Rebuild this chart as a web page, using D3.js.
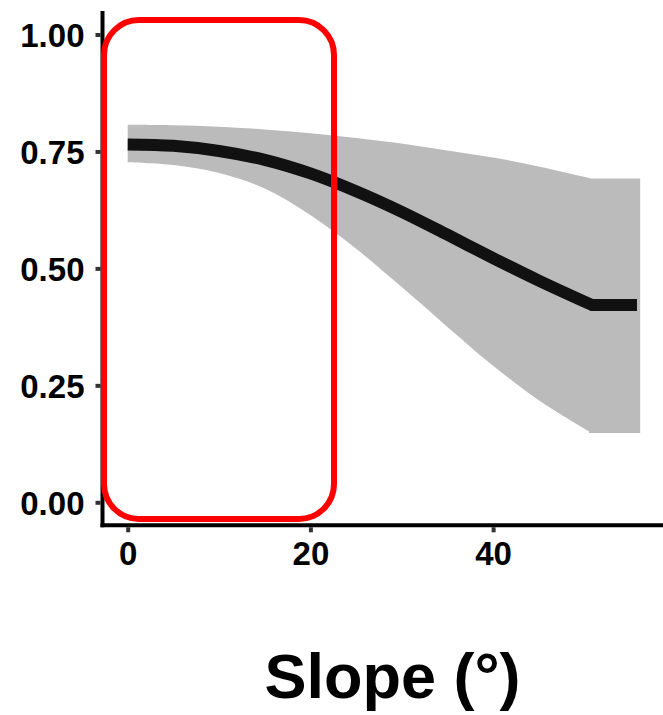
<!DOCTYPE html>
<html><head><meta charset="utf-8">
<script src="https://cdn.jsdelivr.net/npm/d3@7"></script>
<style>body{margin:0;background:#fff}svg{display:block}</style>
</head><body>
<svg id="c" width="663" height="715"></svg>
<script>
// data
const slope = [0, 5, 10, 15, 20, 25, 30, 35, 40, 45, 50.8];
const fit   = [0.765, 0.762, 0.751, 0.732, 0.703, 0.665, 0.621, 0.572, 0.522, 0.474, 0.422];
const upper = [0.807, 0.806, 0.803, 0.797, 0.789, 0.779, 0.767, 0.752, 0.737, 0.718, 0.692];
const lower = [0.727, 0.721, 0.704, 0.671, 0.614, 0.542, 0.460, 0.375, 0.292, 0.218, 0.148];
const slopeEnd = 56.1;
const xTicks = [0, 20, 40];
const yTicks = [0, 0.25, 0.5, 0.75, 1.0];
const xTitle = "Slope (°)";

const svg = d3.select("#c");
const x = d3.scaleLinear().domain([0, 20]).range([127.7, 310.4]);
const y = d3.scaleLinear().domain([0, 1]).range([502.3, 34.5]);

const panelLeft = 102.5, panelBottom = 525.3;
const font = "Liberation Sans, Arial, sans-serif";

const pts = slope.map((s, i) => ({s, f: fit[i], lo: lower[i], hi: upper[i]}));
const last = pts[pts.length - 1];
const plateau = [{s: last.s - 0.3, f: last.f, lo: last.lo, hi: last.hi}, {s: slopeEnd, f: last.f, lo: last.lo, hi: last.hi}];

const curve = d3.curveCatmullRom.alpha(0.5);
// ribbon
const area = d3.area().x(d => x(d.s)).y0(d => y(d.lo)).y1(d => y(d.hi)).curve(curve);
const areaLin = d3.area().x(d => x(d.s)).y0(d => y(d.lo)).y1(d => y(d.hi));
svg.append("path").attr("d", area(pts) + areaLin(plateau)).attr("fill", "#bbbbbb");

// fit line
const line = d3.line().x(d => x(d.s)).y(d => y(d.f)).curve(curve);
const lp = line(pts) + "L" + x(slopeEnd - 0.35) + "," + y(last.f);
svg.append("path").attr("d", lp).attr("fill", "none").attr("stroke", "#111")
  .attr("stroke-width", 12).attr("stroke-linejoin", "miter").attr("stroke-linecap", "butt");

// axes
const xAxis = d3.axisBottom(x).tickValues(xTicks).tickFormat(d3.format("d")).tickSize(7).tickSizeOuter(0);
const gx = svg.append("g").attr("transform", `translate(0,${panelBottom})`).call(xAxis);
gx.select(".domain").remove();
gx.selectAll(".tick line").attr("stroke", "#333").attr("stroke-width", 4).attr("y1", 2);
gx.selectAll(".tick text").attr("y", 16).attr("dy", "0.71em")
  .attr("font-family", font).attr("font-weight", "bold")
  .attr("font-size", 33).attr("fill", "#000");

const yAxis = d3.axisLeft(y).tickValues(yTicks).tickFormat(d3.format(".2f")).tickSize(7).tickSizeOuter(0);
const gy = svg.append("g").attr("transform", `translate(${panelLeft},0)`).call(yAxis);
gy.select(".domain").remove();
gy.selectAll(".tick line").attr("stroke", "#333").attr("stroke-width", 4).attr("x2", -7).attr("x1", -2);
gy.selectAll(".tick text").attr("x", -18).attr("dy", "0.36em")
  .attr("font-family", font).attr("font-weight", "bold")
  .attr("font-size", 33).attr("fill", "#000");

// axis lines
svg.append("line").attr("x1", panelLeft).attr("x2", panelLeft).attr("y1", 11).attr("y2", panelBottom + 2)
  .attr("stroke", "#000").attr("stroke-width", 4);
svg.append("line").attr("x1", panelLeft - 2).attr("x2", 663).attr("y1", panelBottom).attr("y2", panelBottom)
  .attr("stroke", "#000").attr("stroke-width", 4);

// x title
svg.append("text").attr("x", 392.5).attr("y", 698).attr("text-anchor", "middle")
  .attr("font-family", font).attr("font-weight", "bold")
  .attr("font-size", 63).attr("fill", "#000").text(xTitle);

// red highlight annotation
svg.append("rect").attr("x", 104).attr("y", 20).attr("width", 230).attr("height", 499)
  .attr("rx", 35).attr("ry", 35).attr("fill", "none").attr("stroke", "#ff0000").attr("stroke-width", 6);
</script>
</body></html>
